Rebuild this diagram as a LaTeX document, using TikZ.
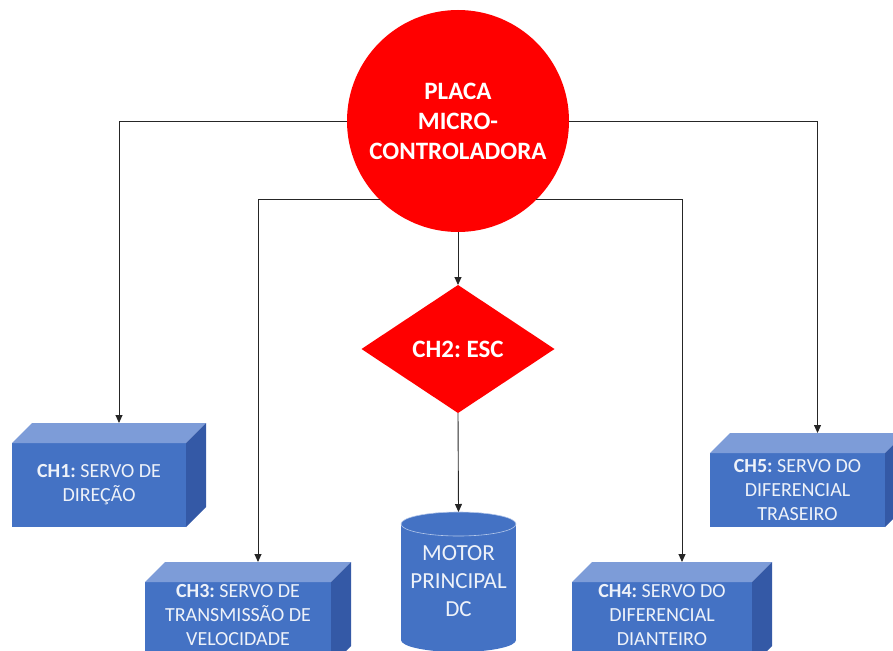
\documentclass[tikz,border=0pt]{standalone}
\usepackage{fontspec}
\setmainfont{Carlito}
\usetikzlibrary{arrows.meta,shapes.geometric,calc}

\definecolor{ctrlred}{HTML}{FF0000}
\definecolor{faceblue}{HTML}{4472C4}
\definecolor{topblue}{HTML}{7D9CD8}
\definecolor{sideblue}{HTML}{3459A6}
\definecolor{cylrim}{HTML}{B4C7EA}
\definecolor{labelwhite}{HTML}{EEF2F9}

\tikzset{
  conn/.style={draw=black!85, line width=0.9pt, -{Triangle[length=8pt,width=7pt]}},
  frontface/.style={fill=faceblue, inner sep=0pt, outer sep=0pt},
  boxlabel/.style={text=labelwhite, align=center, font=\fontsize{20}{24}\selectfont},
  bigred/.style={fill=ctrlred, text=white, inner sep=0pt, outer sep=0pt, align=center,
                 font=\bfseries\fontsize{25}{30}\selectfont},
}

% 3D block: front face node #1 centred at (#2,#3), size #4 x #5
\newcommand\cubeblock[5]{%
  \node[frontface, minimum width=#4pt, minimum height=#5pt] (#1) at (#2,#3) {};
  \fill[topblue] (#1.north west) -- ++(20,-20) -- ($(#1.north east)+(20,-20)$)
                 -- (#1.north east) -- cycle;
  \fill[sideblue] (#1.north east) -- ++(20,-20) -- ($(#1.south east)+(20,-20)$)
                  -- (#1.south east) -- cycle;
  \coordinate (#1-in) at ($(#1.north)+(20,-20)$);
}

\frenchspacing

\begin{document}
\begin{tikzpicture}[x=1pt, y=-1pt]
  \useasboundingbox (0,0) rectangle (893,650);
  \clip (0,0) rectangle (893,650);

  % controller board
  \node[bigred, circle, minimum size=222pt] (mc) at (458,121)
    {PLACA\\MICRO-\\CONTROLADORA};

  % ESC
  \node[bigred, diamond, minimum width=193pt, minimum height=128pt] (esc) at (458,349)
    {CH2: ESC};

  % servo blocks
  \cubeblock{ch1}{99}{485}{174}{84}
  \node[boxlabel] (ch1t) at (99,485) {\textbf{CH1:} SERVO DE\\DIREÇÃO};

  \cubeblock{ch3}{238}{624}{186}{84}
  \node[boxlabel] (ch3t) at (238,615) {\textbf{CH3:} SERVO DE\\TRANSMISSÃO DE\\VELOCIDADE};

  \cubeblock{ch4}{662}{624}{180}{84}
  \node[boxlabel] (ch4t) at (662,615) {\textbf{CH4:} SERVO DO\\DIFERENCIAL\\DIANTEIRO};

  \cubeblock{ch5}{797.5}{490}{175}{74}
  \node[boxlabel] (ch5t) at (797.5,490) {\textbf{CH5:} SERVO DO\\DIFERENCIAL\\TRASEIRO};

  % main DC motor (cylinder)
  \fill[faceblue] (401,524) rectangle (516,640);
  \fill[faceblue] (458.5,640) ellipse [x radius=57.5, y radius=12];
  \filldraw[fill=faceblue, draw=cylrim, line width=0.6pt] (458.5,524) ellipse [x radius=57.5, y radius=12];
  \coordinate (motor-in) at (458.5,512);
  \node[boxlabel, font=\fontsize{23}{28}\selectfont] (motor) at (458.5,581)
    {MOTOR\\PRINCIPAL\\DC};

  % connections
  \draw[conn] (mc.west) -| (ch1-in);
  \draw[conn] (mc.east) -| (ch5-in);
  \draw[conn] (mc.225) -| (ch3-in);
  \draw[conn] (mc.-45) -| (ch4-in);
  \draw[conn] (mc.south) -- (esc.north);
  \draw[conn] (esc.south) -- (motor-in);
\end{tikzpicture}
\end{document}
